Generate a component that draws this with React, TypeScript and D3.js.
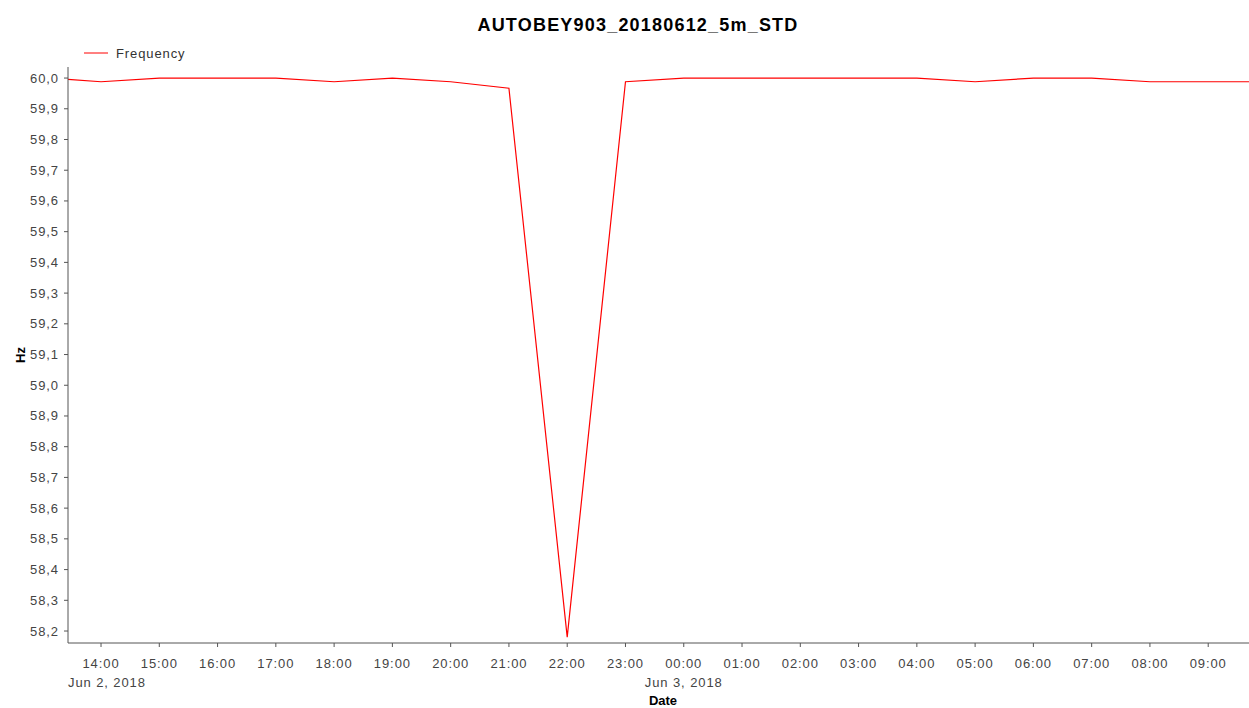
import React from "react";
import * as d3 from "d3";

const times: string[] = [
  "2018-06-02T13:26", "2018-06-02T14:00", "2018-06-02T15:00", "2018-06-02T16:00", "2018-06-02T17:00",
  "2018-06-02T18:00", "2018-06-02T19:00", "2018-06-02T20:00", "2018-06-02T21:00", "2018-06-02T22:00",
  "2018-06-02T23:00", "2018-06-03T00:00", "2018-06-03T01:00", "2018-06-03T02:00", "2018-06-03T03:00",
  "2018-06-03T04:00", "2018-06-03T05:00", "2018-06-03T06:00", "2018-06-03T07:00", "2018-06-03T08:00",
  "2018-06-03T09:00", "2018-06-03T09:42",
];
const frequency: number[] = [
  59.996, 59.988, 60.0, 60.0, 60.0,
  59.988, 60.0, 59.988, 59.967, 58.18,
  59.988, 60.0, 60.0, 60.0, 60.0,
  60.0, 59.988, 60.0, 60.0, 59.988,
  59.988, 59.988,
];
const yTicks: number[] = [60.0, 59.9, 59.8, 59.7, 59.6, 59.5, 59.4, 59.3, 59.2, 59.1, 59.0, 58.9, 58.8, 58.7, 58.6, 58.5, 58.4, 58.3, 58.2];
const xTickTimes: string[] = [
  "2018-06-02T14:00", "2018-06-02T15:00", "2018-06-02T16:00", "2018-06-02T17:00", "2018-06-02T18:00",
  "2018-06-02T19:00", "2018-06-02T20:00", "2018-06-02T21:00", "2018-06-02T22:00", "2018-06-02T23:00",
  "2018-06-03T00:00", "2018-06-03T01:00", "2018-06-03T02:00", "2018-06-03T03:00", "2018-06-03T04:00",
  "2018-06-03T05:00", "2018-06-03T06:00", "2018-06-03T07:00", "2018-06-03T08:00", "2018-06-03T09:00",
];
const title = "AUTOBEY903_20180612_5m_STD";
const seriesName = "Frequency";
const yLabel = "Hz";
const xLabel = "Date";
const dateLabels = [
  { t: "2018-06-02T14:00", text: "Jun 2, 2018", clampLeft: true },
  { t: "2018-06-03T00:00", text: "Jun 3, 2018", clampLeft: false },
];

const W = 1249, H = 708;
const left = 68, right = 1249, top = 67, bottom = 643;
const font = "'Liberation Sans', Arial, sans-serif";
const ls = 0.9;

export default function App() {
  const parse = (s: string) => new Date(s);
  const x = d3.scaleTime()
    .domain([parse("2018-06-02T13:26"), parse("2018-06-03T09:42")])
    .range([left, right]);
  const y = d3.scaleLinear().domain([58.161, 60.036]).range([bottom, top]);
  const pts: [number, number][] = times.map((t, i) => [x(parse(t)), y(frequency[i])]);
  const line = d3.line()(pts) || "";
  const fmtY = (v: number) => v.toFixed(1).replace(".", ",");
  const fmtX = d3.timeFormat("%H:%M");

  return (
    <div style={{ position: "absolute", left: 0, top: 0 }}>
      <svg width={W} height={H} style={{ display: "block", background: "#fff" }}>
        <text x={638} y={31} textAnchor="middle" fontFamily={font} fontWeight="bold" fontSize={18} letterSpacing={1.2} fill="#000">{title}</text>
        <line x1={84} x2={108} y1={53} y2={53} stroke="#ff0000" strokeWidth={1} />
        <text x={116} y={58} fontFamily={font} fontSize={13} letterSpacing={ls} fill="#333">{seriesName}</text>

        <clipPath id="plotclip"><rect x={left} y={top} width={right - left} height={bottom - top} /></clipPath>
        <path d={line} fill="none" stroke="#ff0000" strokeWidth={1.2} clipPath="url(#plotclip)" />

        <line x1={left} x2={left} y1={top} y2={bottom} stroke="#555" strokeWidth={1} />
        {yTicks.map((v) => (
          <g key={v}>
            <line x1={left - 4} x2={left} y1={y(v)} y2={y(v)} stroke="#555" />
            <text x={left - 9} y={y(v) + 4.5} textAnchor="end" fontFamily={font} fontSize={13} letterSpacing={ls} fill="#444">{fmtY(v)}</text>
          </g>
        ))}
        <text transform={`translate(25,${(top + bottom) / 2}) rotate(-90)`} textAnchor="middle" fontFamily={font} fontWeight="bold" fontSize={13} fill="#000">{yLabel}</text>

        <line x1={left} x2={right} y1={bottom} y2={bottom} stroke="#555" strokeWidth={1} />
        {xTickTimes.map((t) => {
          const xx = x(parse(t));
          return (
            <g key={t}>
              <line x1={xx} x2={xx} y1={bottom} y2={bottom + 4} stroke="#555" />
              <text x={xx} y={668} textAnchor="middle" fontFamily={font} fontSize={13} letterSpacing={ls} fill="#444">{fmtX(parse(t))}</text>
            </g>
          );
        })}
        {dateLabels.map((d) => (
          <text key={d.text} x={d.clampLeft ? left : x(parse(d.t))} y={687} textAnchor={d.clampLeft ? "start" : "middle"} fontFamily={font} fontSize={13} letterSpacing={ls} fill="#444">{d.text}</text>
        ))}
        <text x={663} y={705} textAnchor="middle" fontFamily={font} fontWeight="bold" fontSize={13} fill="#000">{xLabel}</text>
      </svg>
    </div>
  );
}
